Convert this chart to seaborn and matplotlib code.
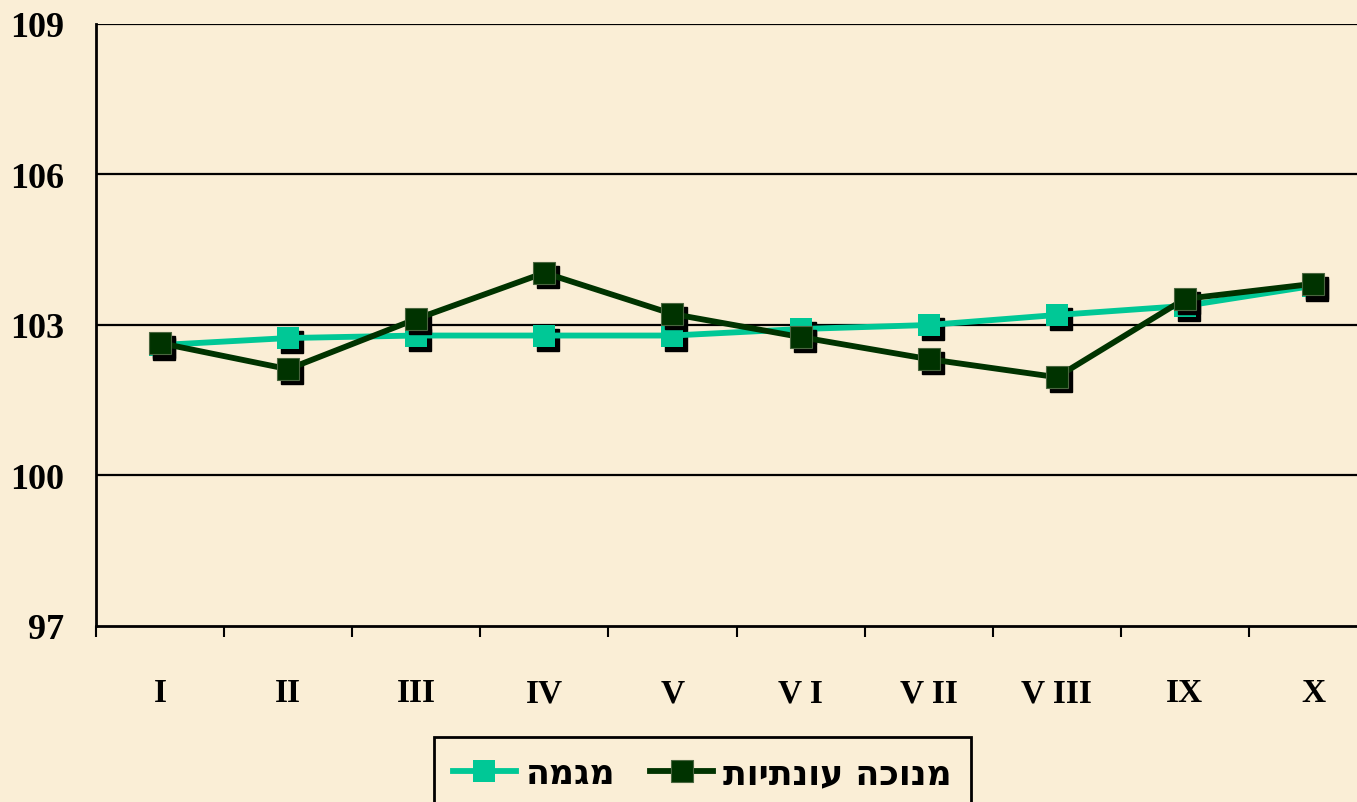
import matplotlib
matplotlib.use("Agg")
import matplotlib.pyplot as plt
import matplotlib.transforms as mtransforms
import numpy as np
import pandas as pd
import seaborn as sns

# Months (roman numerals as printed on the axis)
months = ["I", "II", "III", "IV", "V", "V I", "V II", "V III", "IX", "X"]
# Index values
trend = [102.60, 102.74, 102.79, 102.79, 102.79, 102.92, 103.00, 103.20, 103.38, 103.78]
seasonally_adjusted = [102.64, 102.12, 103.12, 104.04, 103.22, 102.76, 102.32, 101.96, 103.52, 103.82]
# Legend labels (Hebrew, given in visual left-to-right glyph order)
label_trend = "מגמה"[::-1]
label_sa = "מנוכה עונתיות"[::-1]

y_ticks = [97, 100, 103, 106, 109]

BG = "#FAEED6"
C_TREND = "#00C896"
C_SA = "#003300"

W, H, DPI = 1357, 803, 100
fig = plt.figure(figsize=(W / DPI, H / DPI), dpi=DPI, facecolor=BG)
ax = fig.add_axes([96 / W, (H - 627) / H, (1377 - 96) / W, (627 - 25) / H])
ax.set_facecolor(BG)

x = np.arange(len(months))
df = pd.DataFrame({"x": x, "trend": trend, "sa": seasonally_adjusted})

# drop shadow under the square markers
shadow = ax.transData + mtransforms.ScaledTranslation(4 / DPI, -4 / DPI, fig.dpi_scale_trans)
ms = 16

ax.plot(df["x"], df["trend"], ls="none", marker="s", ms=ms, color="black",
        transform=shadow, zorder=3)
sns.lineplot(data=df, x="x", y="trend", ax=ax, color=C_TREND, lw=4.2,
             marker="s", ms=ms, mec=C_TREND, mew=0, label=label_trend, zorder=4)
ax.plot(df["x"], df["sa"], ls="none", marker="s", ms=ms, color="black",
        transform=shadow, zorder=5)
sns.lineplot(data=df, x="x", y="sa", ax=ax, color=C_SA, lw=4.2,
             marker="s", ms=ms, mec="#4a6640", mew=0.8, label=label_sa, zorder=6)

ax.set_xlim(-0.5, len(months) - 0.5)
ax.set_ylim(97, 109)
ax.set_xlabel("")
ax.set_ylabel("")

# horizontal gridlines
for v in y_ticks[1:]:
    ax.axhline(v, color="black", lw=1.6, zorder=1)

ax.set_yticks(y_ticks)
ax.set_yticklabels([str(v) for v in y_ticks])
ax.set_xticks(x)
ax.set_xticklabels(months)
ax.set_xticks(np.arange(-0.5, len(months) + 0.5, 1), minor=True)

ax.tick_params(axis="y", length=0, pad=23)
ax.tick_params(axis="x", which="major", length=0, pad=37)
ax.tick_params(axis="x", which="minor", length=8, width=1.5, color="black", direction="out")

for lbl in ax.get_yticklabels():
    lbl.set_family(["Liberation Serif", "DejaVu Serif"])
    lbl.set_fontweight("bold")
    lbl.set_fontsize(26)
for lbl in ax.get_xticklabels():
    lbl.set_family(["Liberation Serif", "DejaVu Serif"])
    lbl.set_fontweight("bold")
    lbl.set_fontsize(24)

for side in ["top", "right"]:
    ax.spines[side].set_visible(False)
for side in ["left", "bottom"]:
    ax.spines[side].set_color("black")
    ax.spines[side].set_linewidth(2)

handles, labels = ax.get_legend_handles_labels()
ax.get_legend().remove()
leg = fig.legend(handles, labels, ncol=2, loc="upper left",
                 bbox_to_anchor=(434 / W, 1 - 738 / H), borderaxespad=0,
                 frameon=True, fancybox=False, facecolor=BG, edgecolor="black",
                 framealpha=1, handlelength=1.8, handletextpad=0.3,
                 columnspacing=1.0, borderpad=0.55,
                 prop={"family": ["DejaVu Sans"], "weight": "bold", "size": 25})
leg.get_frame().set_linewidth(2)

fig.savefig("out.png", dpi=DPI, facecolor=BG)
